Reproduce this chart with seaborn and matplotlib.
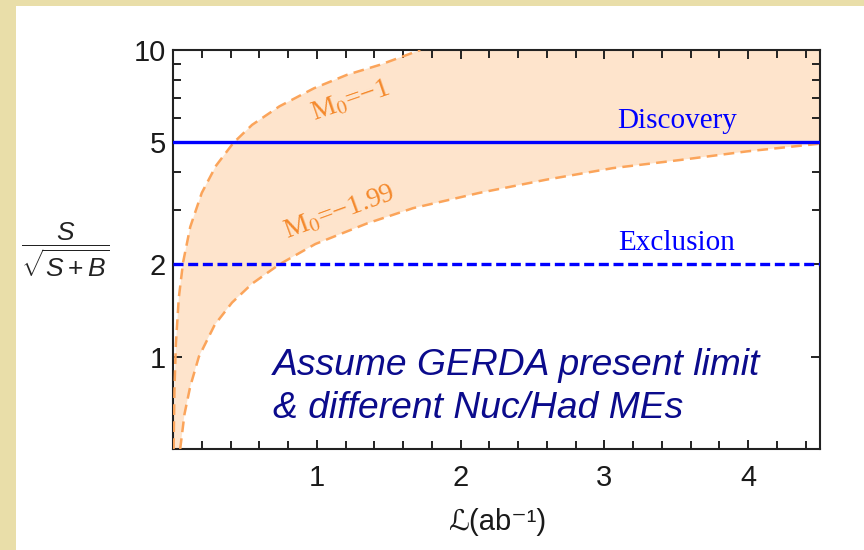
import numpy as np
import pandas as pd
import matplotlib
matplotlib.use("Agg")
import matplotlib.pyplot as plt
import seaborn as sns
from matplotlib.patches import Rectangle
from matplotlib.ticker import FixedLocator, NullFormatter

# ---- data ----
lum_m1 = [0.004, 0.01, 0.02, 0.04, 0.07, 0.12, 0.20, 0.30, 0.42, 0.55, 0.74, 0.98, 1.21, 1.44, 1.72]
snr_m1 = [0.50, 0.78, 1.10, 1.55, 2.03, 2.65, 3.42, 4.20, 4.98, 5.70, 6.55, 7.50, 8.30, 8.95, 10.0]

lum_m199 = [0.05, 0.08, 0.12, 0.18, 0.29, 0.41, 0.55, 0.74, 0.99, 1.35, 1.67, 2.13, 2.60, 3.06, 3.53, 3.99, 4.50]
snr_m199 = [0.50, 0.65, 0.80, 1.00, 1.27, 1.50, 1.73, 2.00, 2.33, 2.72, 3.05, 3.42, 3.78, 4.12, 4.38, 4.67, 4.95]

thresholds = [5, 2]
threshold_labels = ["Discovery", "Exclusion"]
curve_labels = ["M$_0$=\u22121", "M$_0$=\u22121.99"]
x_major = [1, 2, 3, 4]
x_minor = [round(0.2 * i, 1) for i in range(1, 23)]
y_major = [1, 2, 5, 10]
y_major_labels = ["1", "2", "5", "10"]
y_minor = [3, 4, 6, 7, 8, 9]
x_lim = (0, 4.5)
y_lim = (0.5, 10)

# ---- style ----
sns.set_theme(style="white")
plt.rcParams["font.family"] = ["Liberation Sans", "DejaVu Sans"]
plt.rcParams["mathtext.fontset"] = "custom"
plt.rcParams["mathtext.rm"] = "Liberation Sans"
plt.rcParams["mathtext.it"] = "Liberation Sans:italic"
plt.rcParams["mathtext.bf"] = "Liberation Sans:bold"

W, H = 864, 550
fig = plt.figure(figsize=(W / 100, H / 100), dpi=100)
fig.patch.set_facecolor("#E9DEA9")
fig.patches.append(Rectangle((16 / W, 0), 1 - 16 / W, 1 - 6 / H, transform=fig.transFigure,
                             facecolor="white", edgecolor="none", zorder=-10))

ax = fig.add_axes([173 / W, (H - 449) / H, (820 - 173) / W, (449 - 50) / H])
ax.set_zorder(1)
ax.set_facecolor("white")
ax.set_axisbelow(False)

orange_line = "#FBA45A"
orange_fill = "#FEE4CC"
orange_text = "#F4892C"
blue = "#0000FF"

df1 = pd.DataFrame({"L": lum_m1, "s": snr_m1})
df2 = pd.DataFrame({"L": lum_m199, "s": snr_m199})

# band
poly_x = lum_m1 + [x_lim[1]] + lum_m199[::-1]
poly_y = snr_m1 + [y_lim[1]] + snr_m199[::-1]
ax.fill(poly_x, poly_y, facecolor=orange_fill, edgecolor="none", zorder=1)

sns.lineplot(data=df1, x="L", y="s", ax=ax, color=orange_line, lw=1.8,
             linestyle=(0, (4.3, 2.5)), sort=False, zorder=3)
sns.lineplot(data=df2, x="L", y="s", ax=ax, color=orange_line, lw=1.8,
             linestyle=(0, (4.3, 2.5)), sort=False, zorder=3)

ax.axhline(thresholds[0], color=blue, lw=2.4, zorder=4)
ax.axhline(thresholds[1], color=blue, lw=2.4, linestyle=(0, (3.0, 1.4)), zorder=4)

ax.set_yscale("log")
ax.set_xlim(*x_lim)
ax.set_ylim(*y_lim)

ax.xaxis.set_major_locator(FixedLocator(x_major))
ax.xaxis.set_minor_locator(FixedLocator(x_minor))
ax.set_xticklabels([str(v) for v in x_major])
ax.yaxis.set_major_locator(FixedLocator(y_major))
ax.yaxis.set_minor_locator(FixedLocator(y_minor))
ax.set_yticklabels(y_major_labels)
ax.yaxis.set_minor_formatter(NullFormatter())

ax.tick_params(which="both", direction="in", top=True, right=True, bottom=True, left=True,
               color="#222222", width=1.4, labelsize=21, labelcolor="#1a1a1a")
ax.tick_params(axis="x", which="both", pad=11)
ax.tick_params(axis="y", which="both", pad=5)
ax.tick_params(which="major", length=6.5)
ax.tick_params(which="minor", length=6.0)
for sp in ax.spines.values():
    sp.set_color("#222222")
    sp.set_linewidth(1.5)

ax.set_xlabel("")
ax.set_ylabel("")

def data_at(px, py):
    return ax.transData.inverted().transform((px, H - py))

# threshold labels
serif = ["Liberation Serif", "DejaVu Serif"]
ax.text(*data_at(677, 128), threshold_labels[0], color=blue, fontsize=21,
        family=serif, ha="center", va="baseline", zorder=5)
ax.text(*data_at(677, 250), threshold_labels[1], color=blue, fontsize=21,
        family=serif, ha="center", va="baseline", zorder=5)

# curve labels
ax.text(*data_at(351, 101), curve_labels[0], color=orange_text, fontsize=20, family=serif,
        math_fontfamily="stix", rotation=19, ha="center", va="center",
        rotation_mode="anchor", zorder=5)
ax.text(*data_at(340, 212), curve_labels[1], color=orange_text, fontsize=20, family=serif,
        math_fontfamily="stix", rotation=20, ha="center", va="center",
        rotation_mode="anchor", zorder=5)

# annotation
ax.text(*data_at(273, 418), "Assume GERDA present limit\n& different Nuc/Had MEs",
        color="#0B0B8C", fontsize=26.8, style="italic", ha="left", va="baseline",
        linespacing=1.3, zorder=5)

# axis labels
fig.text(65 / W, 1 - 250 / H, r"$\dfrac{S}{\sqrt{S+B}}$", fontsize=19, color="#222222",
         ha="center", va="center")
fig.text(497 / W, 1 - 522 / H, "\u2112(ab\u207b\u00b9)", fontsize=21, color="#1a1a1a",
         ha="center", va="center", family=["Liberation Sans", "DejaVu Sans"])

fig.savefig("out.png", dpi=100)
